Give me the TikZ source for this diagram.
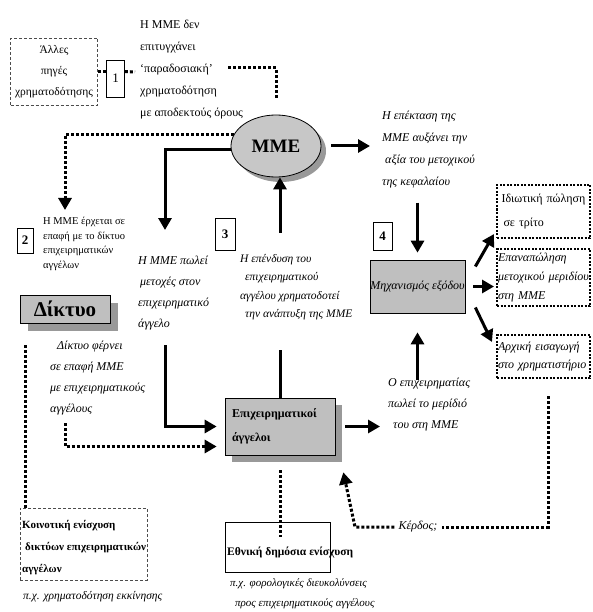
\documentclass[tikz,border=0pt]{standalone}
\usepackage{fontspec}
\setmainfont{Liberation Serif}
\usetikzlibrary{arrows.meta,shadows,shapes.geometric}

\begin{document}
\begin{tikzpicture}
	[x=1pt,y=-1pt,
	every node/.style={inner sep=0pt},
	txt/.style={align=left,anchor=north west,font=\fontsize{12}{21}\selectfont\itshape},
	plain/.style={align=left,anchor=north west,font=\fontsize{12}{22}\selectfont},
	numbox/.style={draw,line width=0.7pt,minimum width=18pt,minimum height=28pt,font=\fontsize{13}{14}\selectfont\bfseries},
	graybox/.style={draw,line width=0.7pt,fill=black!25},
	shadowed/.style={drop shadow={shadow xshift=#1,shadow yshift=-#1,fill=black!40,opacity=1}},
	thinbox/.style={draw=black!70,densely dashed,line width=0.6pt},
	dotbox/.style={draw,line width=2pt,dash pattern=on 2pt off 1.5pt},
	arr/.style={line width=3pt,-{Triangle[length=12pt,width=13pt]}},
	dots/.style={line width=3pt,dash pattern=on 3pt off 2pt}]

	\useasboundingbox (0,0) rectangle (593,612);

	\node[thinbox,minimum width=87pt,minimum height=67pt,align=center,font=\fontsize{11.5}{21}\selectfont] (A) at (54,71.5) {Άλλες\\πηγές\\χρηματοδότησης};
	\node[numbox,minimum height=37pt,font=\fontsize{13}{14}\selectfont] (N1) at (115.5,78.5) {1};
	\node[plain] (T1) at (140,20) {Η ΜΜΕ δεν\\επιτυγχάνει\\‘παραδοσιακή’\\χρηματοδότηση\\με αποδεκτούς όρους};
	\coordinate (q0) at (135,72);
	\coordinate (q1) at (228,68);

	\node[draw,ellipse,line width=0.8pt,fill=black!22,shadowed=5pt,minimum width=90pt,minimum height=62pt,font=\fontsize{19}{20}\selectfont\bfseries] (M) at (276,146) {ΜΜΕ};

	\draw[dots] (A.east) -- (A.east -| N1.west);
	\draw[dots] (N1.east |- A.east) -- (q0);
	\draw[dots,shorten >=15pt] (q1) -| (M.north);

	\node[numbox,minimum width=16pt,minimum height=25pt] (N2) at (25,240.5) {2};
	\node[plain,font=\fontsize{10.5}{14.5}\selectfont] (T2) at (43,217) {Η ΜΜΕ έρχεται σε\\επαφή με το δίκτυο\\επιχειρηματικών\\αγγέλων};
	\coordinate (q2) at (65,210);
	\draw[dots,arr] (M.165) -| (q2);

	\node[graybox,shadowed=8pt,minimum width=90pt,minimum height=28pt,font=\fontsize{21}{22}\selectfont\bfseries] (D) at (65,309) {Δίκτυο};
	\node[txt] (T3) at (50,341) {\hspace*{7pt}Δίκτυο φέρνει\\σε επαφή ΜΜΕ\\με επιχειρηματικούς\\αγγέλους};

	\node[thinbox,minimum width=127pt,minimum height=72pt] (K) at (83.5,544) {};
	\node[plain,font=\fontsize{11}{22}\selectfont\bfseries] (KT) at (22,520) {Κοινοτική ενίσχυση\\\hspace*{3pt}δικτύων επιχειρηματικών\\αγγέλων};
	\node[txt,font=\fontsize{11.5}{14}\selectfont\itshape] (KP) at (23,591) {π.χ. χρηματοδότηση εκκίνησης};
	\coordinate (q5) at (25,345);
	\draw[dots] (q5) -- (q5 |- K.north);

	\coordinate (q3) at (165,230);
	\draw[arr] (M.185) -| (q3);
	\node[txt] (T4) at (138,256) {Η ΜΜΕ πωλεί\\\hspace*{2pt}μετοχές στον\\επιχειρηματικό\\άγγελο};

	\node[graybox,shadowed=7pt,minimum width=110pt,minimum height=57pt,align=left,text width=96pt,font=\fontsize{12}{24}\selectfont\bfseries] (E) at (280,426.5) {Επιχειρηματικοί\\άγγελοι};
	\coordinate (q4) at (165,345);
	\coordinate (q6) at (65,423);
	\draw[arr] (q4) |- ([xshift=-8pt]E.west);
	\draw[dots,arr] (q6) |- ([xshift=-8pt,yshift=-20pt]E.west);

	\node[numbox,minimum width=20pt,minimum height=32pt] (N3) at (225,234) {3};
	\node[txt,font=\fontsize{11.5}{18.5}\selectfont\itshape] (T6) at (240,254) {Η επένδυση του\\\hspace*{5pt}επιχειρηματικού\\αγγέλου χρηματοδοτεί\\\hspace*{5pt}την ανάπτυξη της ΜΜΕ};
	\draw[line width=3pt] (E.north) -- ([yshift=48pt]E.north);
	\draw[arr] ([yshift=165pt]E.north) -- (E.north |- M.south);

	\node[txt,font=\fontsize{12}{22}\selectfont\itshape] (T5) at (382,111) {Η επέκταση της\\ΜΜΕ αυξάνει την\\\hspace*{3pt}αξία του μετοχικού\\της κεφαλαίου};
	\draw[arr] ([xshift=10pt]M.east) -- ([xshift=-12pt]M.east -| T5.west);

	\node[numbox,minimum width=19pt,minimum height=28pt] (N4) at (382.5,236) {4};
	\node[graybox,minimum width=95pt,minimum height=53pt,font=\fontsize{12}{14}\selectfont\itshape] (X) at (417.5,286.5) {Μηχανισμός εξόδου};
	\draw[arr] ([yshift=57pt]X.north) -- ([yshift=7pt]X.north);
	\draw[arr] ([yshift=-67pt]X.south) -- ([yshift=-19pt]X.south);
	\node[txt] (T7) at (388,378) {Ο επιχειρηματίας\\πωλεί το μερίδιό\\\hspace*{5pt}του στη ΜΜΕ};
	\draw[arr] ([xshift=10pt]E.east) -- ([xshift=-8pt]E.east -| T7.west);

	\node[dotbox,minimum width=93pt,minimum height=53pt,text width=84pt,align=left,font=\fontsize{12}{24}\selectfont] (R1) at (543.5,211.5) {Ιδιωτική πώληση\\\hspace*{2pt}σε τρίτο};
	\node[dotbox,minimum width=93pt,minimum height=57pt,text width=91pt,align=left,font=\fontsize{12}{19}\selectfont\itshape] (R2) at (543.5,277.5) {Επαναπώληση\\μετοχικού μεριδίου\\στη ΜΜΕ};
	\node[dotbox,minimum width=93pt,minimum height=43pt,text width=91pt,align=left,font=\fontsize{12}{18}\selectfont\itshape] (R3) at (543.5,356.5) {Αρχική εισαγωγή\\στο χρηματιστήριο};
	\draw[arr] ([xshift=10pt,yshift=20pt]X.east) -- ([xshift=-2pt,yshift=5pt]R1.south west);
	\draw[arr] ([xshift=8pt]X.east) -- ([xshift=-2pt]X.east -| R2.west);
	\draw[arr] ([xshift=10pt,yshift=-21pt]X.east) -- ([xshift=-4pt,yshift=-8pt]R3.north west);

	\node[txt,anchor=center,inner sep=4pt,font=\fontsize{12}{14}\selectfont\itshape] (G) at (418,527) {Κέρδος;};
	\coordinate (q8) at (355,527);
	\draw[dots] ([xshift=4.5pt,yshift=-17pt]R3.south) |- (G.east);
	\draw[dots,arr] (G.west) -- (q8) -- ([xshift=8pt,yshift=-17pt]E.south east);

	\node[draw,line width=0.7pt,minimum width=105pt,minimum height=50pt] (N) at (277.5,547) {};
	\node[anchor=west,font=\fontsize{11.5}{14}\selectfont\bfseries] (NT) at (227,552) {Εθνική δημόσια ενίσχυση};
	\node[txt,font=\fontsize{11}{20}\selectfont\itshape] (NP) at (230,579) {π.χ. φορολογικές διευκολύνσεις\\\hspace*{5pt}προς επιχειρηματικούς αγγέλους};
	\draw[dots] ([yshift=-15pt]E.south) -- ([yshift=-15pt]E.south |- N.north);
\end{tikzpicture}
\end{document}
